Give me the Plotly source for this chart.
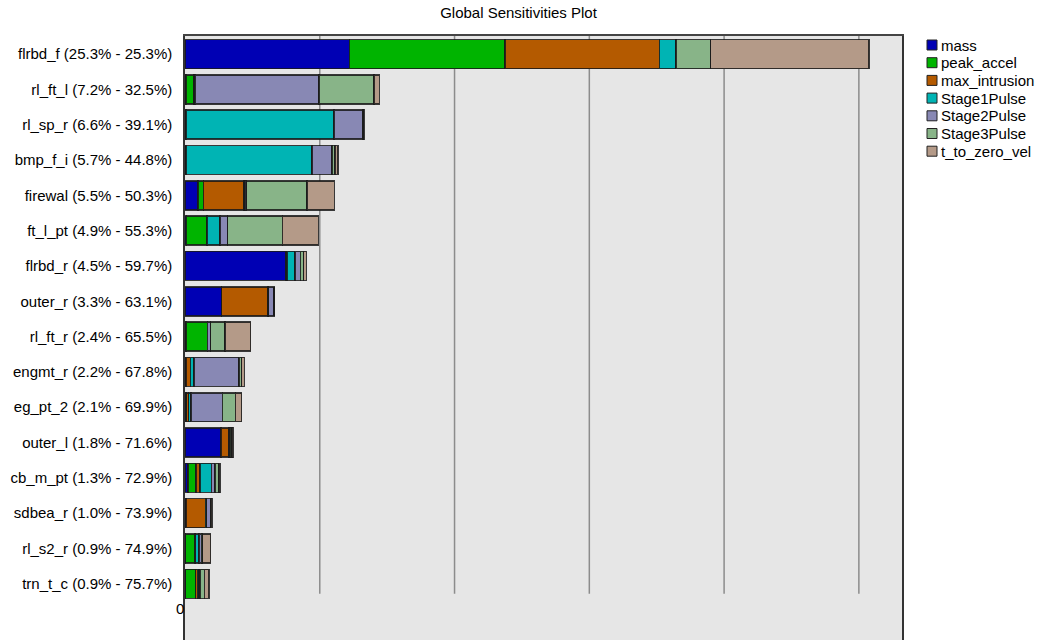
import plotly.graph_objects as go

# Components, ordered by their share of the total sensitivity
components = ["flrbd_f", "rl_ft_l", "rl_sp_r", "bmp_f_i", "firewal", "ft_l_pt",
              "flrbd_r", "outer_r", "rl_ft_r", "engmt_r", "eg_pt_2", "outer_l",
              "cb_m_pt", "sdbea_r", "rl_s2_r", "trn_t_c"]
share_pct = [25.3, 7.2, 6.6, 5.7, 5.5, 4.9, 4.5, 3.3, 2.4, 2.2, 2.1, 1.8, 1.3, 1.0, 0.9, 0.9]
cumulative_pct = [25.3, 32.5, 39.1, 44.8, 50.3, 55.3, 59.7, 63.1, 65.5, 67.8, 69.9,
                  71.6, 72.9, 73.9, 74.9, 75.7]

# Contribution of each response to every component (percent)
mass = [6.10, 0.03, 0.03, 0.03, 0.49, 0.05, 3.75, 1.36, 0.03, 0.03, 0.04, 1.32, 0.12, 0.03, 0.02, 0.02]
peak_accel = [5.77, 0.28, 0.0, 0.0, 0.19, 0.76, 0.02, 0.0, 0.80, 0.0, 0.02, 0.03, 0.29, 0.0, 0.35, 0.37]
max_intrusion = [5.73, 0.03, 0.0, 0.0, 1.51, 0.02, 0.03, 1.71, 0.0, 0.17, 0.07, 0.26, 0.15, 0.73, 0.02, 0.07]
stage1_pulse = [0.61, 0.03, 5.50, 4.68, 0.03, 0.47, 0.28, 0.03, 0.0, 0.14, 0.10, 0.03, 0.42, 0.04, 0.12, 0.05]
stage2_pulse = [0.0, 4.61, 1.08, 0.75, 0.07, 0.28, 0.20, 0.20, 0.12, 1.66, 1.16, 0.03, 0.14, 0.15, 0.10, 0.05]
stage3_pulse = [1.29, 2.04, 0.02, 0.10, 2.24, 2.03, 0.12, 0.0, 0.54, 0.10, 0.48, 0.08, 0.15, 0.03, 0.04, 0.16]
t_to_zero_vel = [5.88, 0.19, 0.02, 0.11, 1.01, 1.34, 0.10, 0.0, 0.94, 0.10, 0.23, 0.03, 0.03, 0.04, 0.30, 0.17]

series_names = ["mass", "peak_accel", "max_intrusion", "Stage1Pulse", "Stage2Pulse",
                "Stage3Pulse", "t_to_zero_vel"]
series_values = [mass, peak_accel, max_intrusion, stage1_pulse, stage2_pulse,
                 stage3_pulse, t_to_zero_vel]
series_colors = ["#0000B4", "#00B400", "#B45A00", "#00B4B4", "#8888B4", "#88B488", "#B49A88"]

grid_values = [5, 10, 15, 20, 25]

labels = [f"{n} ({s}% - {c}%)" for n, s, c in zip(components, share_pct, cumulative_pct)]

FONT = "Liberation Sans, Arial, sans-serif"
W, H = 1037, 640
L, R, T, B = 185, 135, 36, 0
plot_w, plot_h = W - L - R, H - T - B

fig = go.Figure()
for name, vals, col in zip(series_names, series_values, series_colors):
    fig.add_trace(go.Bar(
        y=labels, x=vals, name=name, orientation="h",
        marker=dict(color=col, line=dict(color="rgba(25,25,25,0.85)", width=1.5)),
        showlegend=False,
    ))

n_cat = len(labels)
y_top, y_bottom = -0.51, 16.59

# vertical grid lines, stopping just below the last bar
for g in grid_values:
    fig.add_shape(type="line", xref="x", yref="y", x0=g, x1=g, y0=y_top, y1=n_cat - 0.72,
                  line=dict(color="#8C8C8C", width=1.5), layer="below")

# legend: colored squares with series names
def px_x(p):
    return (p - L) / plot_w

def px_y(p):
    return 1 - (p - T) / plot_h

for i, (name, col) in enumerate(zip(series_names, series_colors)):
    cy = 45 + i * 17.7
    fig.add_shape(type="rect", xref="paper", yref="paper",
                  x0=px_x(927), x1=px_x(937), y0=px_y(cy + 5), y1=px_y(cy - 5),
                  fillcolor=col, line=dict(color="#222", width=1))
    fig.add_annotation(xref="paper", yref="paper", x=px_x(939), y=px_y(cy),
                       text=name, showarrow=False, xanchor="left", yanchor="middle",
                       font=dict(family=FONT, size=15, color="black"))

# lone axis tick label at the origin
fig.add_annotation(xref="paper", yref="paper", x=px_x(186), y=px_y(608), text="0",
                   showarrow=False, xanchor="right", yanchor="middle",
                   font=dict(family=FONT, size=15, color="black"))

fig.update_layout(
    width=W, height=H,
    margin=dict(l=L, r=R, t=T, b=B, pad=0),
    paper_bgcolor="white", plot_bgcolor="#E6E6E6",
    barmode="stack", bargap=0.18,
    title=dict(text="Global Sensitivities Plot", x=0.5, xref="container", xanchor="center",
               y=1 - 13 / H, yref="container", yanchor="middle",
               font=dict(family=FONT, size=15, color="black")),
    font=dict(family=FONT, size=15, color="black"),
    xaxis=dict(range=[0, 26.6], showgrid=False, zeroline=False, showticklabels=False,
               ticks="", showline=True, mirror=True, linecolor="#444", linewidth=1.5),
    yaxis=dict(range=[y_bottom, y_top], showgrid=False, zeroline=False, ticks="",
               ticklabelstandoff=8, showline=True, mirror=True, linecolor="#333",
               linewidth=1.5, tickfont=dict(family=FONT, size=15, color="black")),
)

fig.write_html("out.html")
